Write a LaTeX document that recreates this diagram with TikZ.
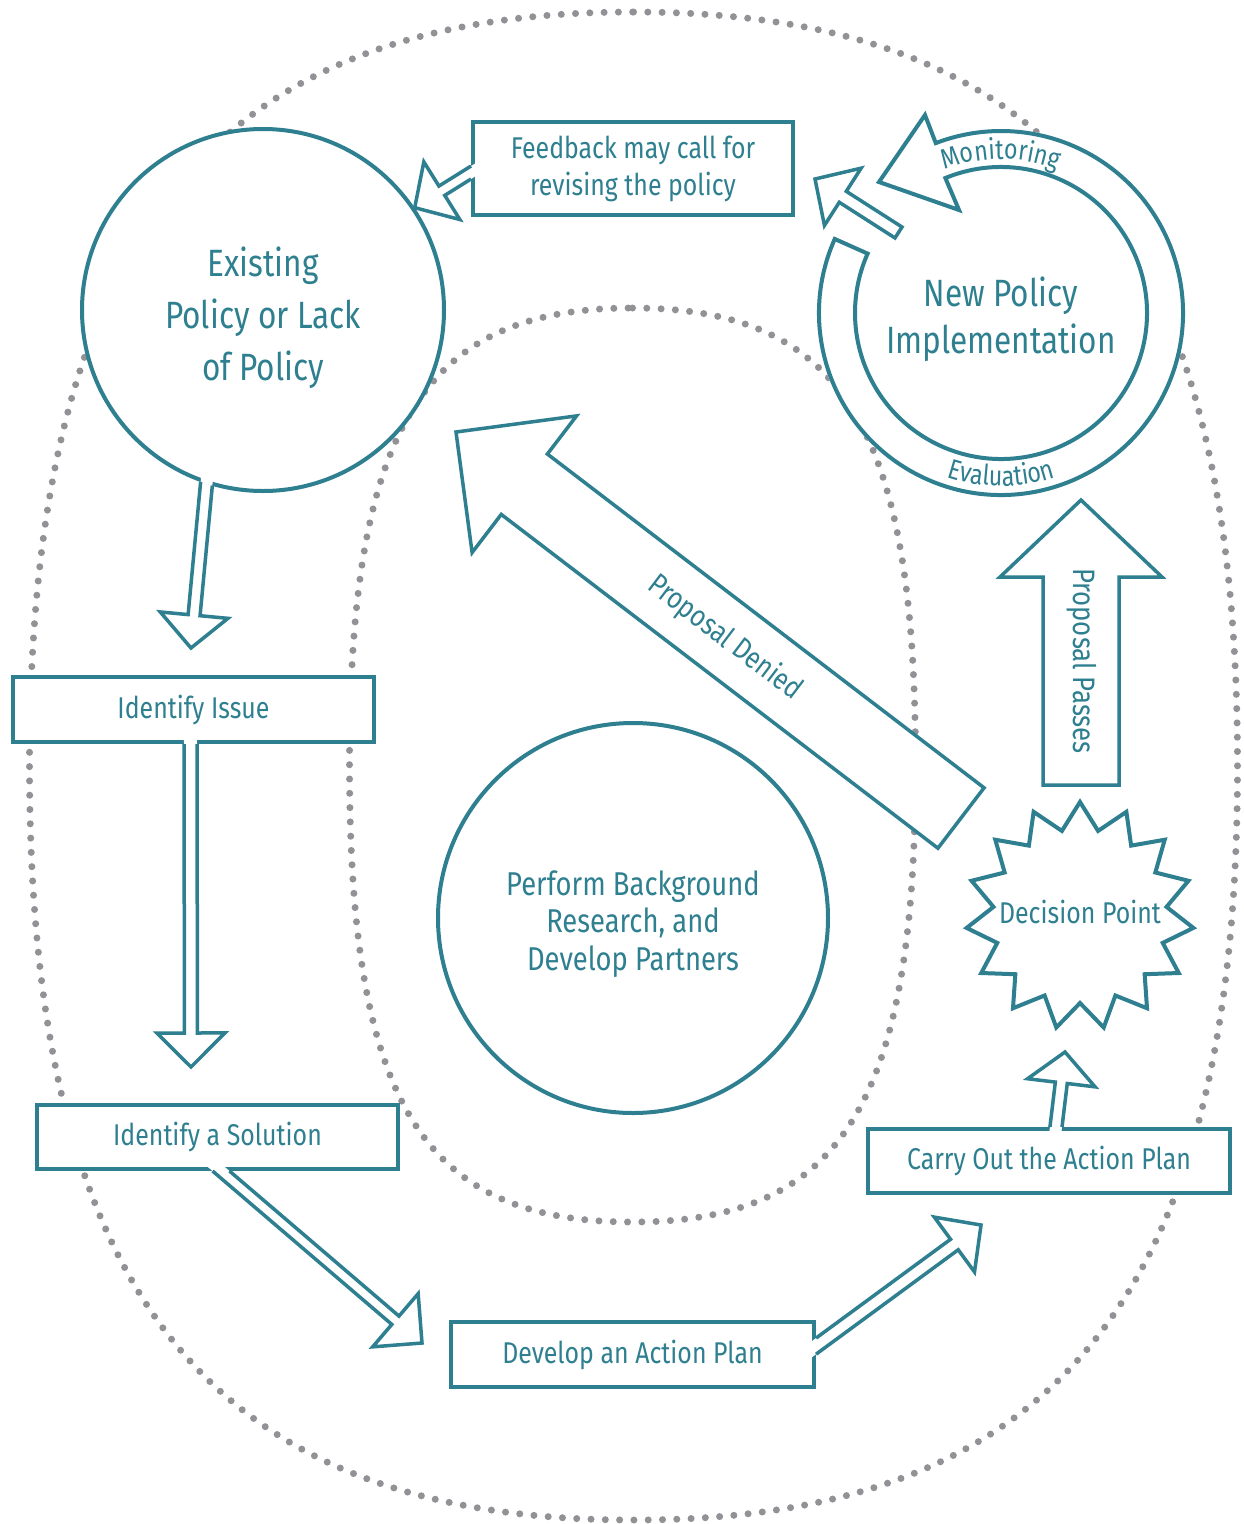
\documentclass[tikz,border=0pt]{standalone}
\usepackage{fontspec}
\setmainfont{Fira Sans}[FakeStretch=0.83]
\usetikzlibrary{shapes.geometric,calc,decorations.text}
\definecolor{tealc}{RGB}{46,127,143}
\definecolor{dotc}{RGB}{146,145,150}
\newcommand\fsz[2]{\fontsize{#1}{#2}\selectfont}
\newcommand\ringfont{\fontsize{28}{28}\selectfont}
\tikzset{
  arrowline/.style={draw=tealc, line width=3.5pt, line join=miter, miter limit=10},
  dotline/.style={draw=dotc, line width=7pt, line cap=round, dash pattern=on 0pt off 14.3pt},
  bubble/.style={circle, draw=tealc, fill=white, line width=4pt, inner sep=0pt, text=tealc, align=center},
  stepbox/.style={rectangle, draw=tealc, fill=white, line width=4pt, inner sep=0pt, text=tealc, align=center, font=\fsz{30}{37}},
  lbl/.style={text=tealc, inner sep=0pt, font=\fsz{30}{34}},
  starline/.style={draw=tealc, fill=white, line width=4pt, line join=miter, miter limit=10},
}
% open-based hollow arrow: #1,#2 edge of source node, #3 start, #4 tip, #5 half shaft, #6 half head, #7 head length
\newcommand\openarrow[7]{%
  \coordinate (HAs) at (#3);
  \coordinate (HAe) at (#4);
  \coordinate (HAh) at ($(HAe)!#7!(HAs)$);
  \coordinate (HAl0) at ($(HAs)!#5!90:(HAe)$);
  \coordinate (HAl1) at ($(HAh)!#5!90:(HAe)$);
  \coordinate (HAr0) at ($(HAs)!#5!-90:(HAe)$);
  \coordinate (HAr1) at ($(HAh)!#5!-90:(HAe)$);
  \coordinate (HAbl) at ($(HAh)!#6!90:(HAe)$);
  \coordinate (HAbr) at ($(HAh)!#6!-90:(HAe)$);
  \coordinate (HAE1) at (#1);
  \coordinate (HAE2) at (#2);
  \coordinate (HAL) at (intersection of HAl0--HAl1 and HAE1--HAE2);
  \coordinate (HAR) at (intersection of HAr0--HAr1 and HAE1--HAE2);
  \fill[white] ($(HAL)!-6pt!(HAl1)$) -- (HAl1) -- (HAbl) -- (HAe) -- (HAbr) -- (HAr1) -- ($(HAR)!-6pt!(HAr1)$) -- cycle;
  \draw[arrowline] (HAL) -- (HAl1) -- (HAbl) -- (HAe) -- (HAbr) -- (HAr1) -- (HAR);
}
% closed hollow arrow: #1 tail, #2 tip, #3 half shaft, #4 half head, #5 head length
\newcommand\closedarrow[5]{%
  \coordinate (HAs) at (#1);
  \coordinate (HAe) at (#2);
  \coordinate (HAh) at ($(HAe)!#5!(HAs)$);
  \draw[arrowline, fill=white] ($(HAs)!#3!90:(HAe)$) -- ($(HAh)!#3!90:(HAe)$) -- ($(HAh)!#4!90:(HAe)$) -- (HAe) -- ($(HAh)!#4!-90:(HAe)$) -- ($(HAh)!#3!-90:(HAe)$) -- ($(HAs)!#3!-90:(HAe)$) -- cycle;
}
\begin{document}
\begin{tikzpicture}[x=1pt,y=-1pt]
\useasboundingbox (0,0) rectangle (1243,1524);
\fill[white] (0,0) rectangle (1243,1524);

% dotted outer and inner rings
\draw[dotline] (633.5,12) .. controls (1056.3,12) and (1237.5,238.2) .. (1237.5,766)
  .. controls (1237.5,1293.8) and (1056.3,1520) .. (633.5,1520)
  .. controls (210.7,1520) and (29.5,1293.8) .. (29.5,766)
  .. controls (29.5,238.2) and (210.7,12) .. (633.5,12);
\draw[dotline] (632.5,308) .. controls (841.9,308) and (915.5,426.8) .. (915.5,765)
  .. controls (915.5,1103.2) and (841.9,1222) .. (632.5,1222)
  .. controls (423.1,1222) and (349.5,1103.2) .. (349.5,765)
  .. controls (349.5,426.8) and (423.1,308) .. (632.5,308);

% nodes
\node[bubble, minimum size=362pt] (ex) at (263,310) {};
\node[text=tealc, align=center, inner sep=0pt, font=\fsz{38}{52}] (exl) at (263,318) {Existing\\Policy or Lack\\of Policy};
\node[bubble, minimum size=390pt] (pb) at (633,918) {};
\node[text=tealc, align=center, inner sep=0pt, font=\fsz{33}{37.5}] (pbl) at (633,924) {Perform Background\\Research, and\\Develop Partners};
\node[stepbox, minimum width=320pt, minimum height=93pt] (fb) at (633,168.5) {Feedback may call for\\revising the policy};
\node[stepbox, minimum width=361pt, minimum height=65pt] (ii) at (193.5,709.5) {Identify Issue};
\node[stepbox, minimum width=361pt, minimum height=64pt] (is) at (217.5,1137) {Identify a Solution};
\node[stepbox, minimum width=363pt, minimum height=65pt] (da) at (632.5,1354.5) {Develop an Action Plan};
\node[stepbox, minimum width=362pt, minimum height=64pt] (co) at (1049,1161) {Carry Out the Action Plan};

% decision point (15-point star)
\coordinate (dpc) at (1080,916);
\draw[starline] ($(dpc)+(-90:114)$)
  \foreach \i in {0,...,14} { -- ($(dpc)+({-78+24*\i}:87)$) -- ($(dpc)+({-66+24*\i}:114)$) } -- cycle;
\node[text=tealc, inner sep=0pt, font=\fsz{30}{34}] (dp) at (1080,912) {Decision Point};

% new policy with monitoring / evaluation ring
\coordinate (npc) at (1001,313);
\fill[white] (npc) circle[radius=184];
\draw[draw=tealc, line width=4pt, fill=white, line join=miter]
  ($(npc)+(-156:182)$) arc[start angle=-156, end angle=-471, radius=182]
  -- ($(npc)+(-76,-198)$) -- ($(npc)+(-122,-131)$) -- ($(npc)+(-42,-103)$)
  -- ($(npc)+(-112.4:146)$) arc[start angle=-472.4, end angle=-156, radius=146] -- cycle;
\node[text=tealc, align=center, inner sep=0pt, font=\fsz{38}{47}] (np) at (1001,319) {New Policy\\Implementation};
\path[decorate, decoration={text along path, text={|\ringfont|Monitoring}, text align=center, text color=tealc}]
  ($(npc)+(-135:154)$) arc[start angle=-135, end angle=-45, radius=154];
\path[decorate, decoration={text along path, text={|\ringfont|Evaluation}, text align=center, text color=tealc}]
  ($(npc)+(135:173)$) arc[start angle=135, end angle=45, radius=173];

% connectors
\openarrow{fb.north west}{fb.south west}{$(fb.west)+(0,4)$}{ex.34.5}{5.5pt}{34pt}{32pt}
\closedarrow{$(npc)+(-102.5,-80.5)$}{$(fb.east)+(20,10.5)$}{6.5pt}{34pt}{33pt}
\openarrow{ex.249}{ex.256}{ex.252.4}{$(ii.north)+(-2.5,-27)$}{6pt}{34pt}{33pt}
\openarrow{ii.south west}{ii.south east}{$(ii.south)+(-3,0)$}{$(is.north)+(-26.5,-36)$}{6.5pt}{34pt}{34pt}
\openarrow{is.south west}{is.south east}{$(is.south)+(3.5,0)$}{$(da.west)+(-27,-11.5)$}{5.5pt}{35pt}{35pt}
\openarrow{da.north east}{da.south east}{$(da.east)+(0,-8.5)$}{$(co.south)+(-68,30)$}{6.5pt}{34pt}{33pt}
\openarrow{co.north west}{co.north east}{$(co.north)+(7,0)$}{$(dp.center)+(-15,140)$}{6pt}{34pt}{31pt}
\closedarrow{$(dp.center)+(1,-127)$}{$(np.center)+(80,181)$}{38pt}{81pt}{77pt}
\closedarrow{$(dp.center)+(-119,-94)$}{$(ex.center)+(193,122)$}{38pt}{86pt}{86pt}

% connector labels
\node[lbl, rotate=-37.2] (pdl) at (725,638) {Proposal Denied};
\node[lbl, font=\fsz{31}{34}, rotate=-90] (ppl) at (1082,661) {Proposal Passes};
\end{tikzpicture}
\end{document}
